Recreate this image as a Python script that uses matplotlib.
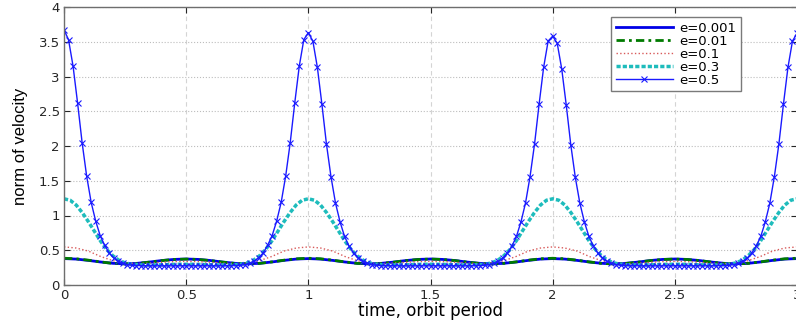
import numpy as np
import matplotlib
matplotlib.use('Agg')
import matplotlib.pyplot as plt
from matplotlib.ticker import FuncFormatter

# ------------------------------------------------------------------------------
# values (time in orbit periods)
t_e05 = np.linspace(0, 3, 163)   # marker spacing ~1/54 period
t_e03 = np.linspace(0, 3, 121)
t_low = np.linspace(0, 3, 61)

e05_p0 = [3.67, 3.53, 3.15, 2.62, 2.05, 1.57, 1.19, 0.92, 0.71, 0.57, 0.46,
          0.39, 0.343, 0.312, 0.294, 0.284, 0.280, 0.278, 0.277, 0.276,
          0.275, 0.275, 0.275, 0.275, 0.275, 0.275, 0.275, 0.275, 0.275,
          0.275, 0.275, 0.275, 0.275, 0.275, 0.275, 0.276, 0.277, 0.278,
          0.280, 0.284, 0.294, 0.312, 0.343, 0.39, 0.46, 0.57, 0.71, 0.92,
          1.19, 1.57, 2.05, 2.62, 3.15, 3.53]
e05_p1 = [3.63, 3.51, 3.13, 2.60, 2.03, 1.56, 1.18, 0.91, 0.70, 0.56, 0.46,
          0.388, 0.341, 0.311, 0.293, 0.284, 0.280, 0.278, 0.277, 0.276,
          0.275, 0.275, 0.275, 0.275, 0.275, 0.275, 0.275, 0.275, 0.275,
          0.275, 0.275, 0.275, 0.275, 0.275, 0.275, 0.276, 0.277, 0.278,
          0.280, 0.284, 0.293, 0.311, 0.341, 0.388, 0.46, 0.56, 0.70, 0.91,
          1.18, 1.56, 2.03, 2.60, 3.13, 3.51]
e05_p2 = [3.58, 3.48, 3.11, 2.59, 2.02, 1.55, 1.18, 0.91, 0.70, 0.56, 0.46,
          0.388, 0.341, 0.311, 0.293, 0.284, 0.280, 0.278, 0.277, 0.276,
          0.275, 0.275, 0.275, 0.275, 0.275, 0.275, 0.275, 0.275, 0.275,
          0.275, 0.275, 0.275, 0.275, 0.275, 0.275, 0.276, 0.277, 0.278,
          0.280, 0.284, 0.293, 0.311, 0.341, 0.388, 0.46, 0.56, 0.70, 0.91,
          1.18, 1.56, 2.03, 2.60, 3.13, 3.51]
e05 = e05_p0 + e05_p1 + e05_p2 + [3.62]

e03_p = [1.24, 1.22, 1.15, 1.04, 0.91, 0.77, 0.63, 0.51, 0.42, 0.355, 0.318,
         0.300, 0.292, 0.289, 0.288, 0.289, 0.291, 0.294, 0.296, 0.298,
         0.298, 0.298, 0.296, 0.294, 0.291, 0.289, 0.288, 0.289, 0.292,
         0.300, 0.318, 0.355, 0.42, 0.51, 0.63, 0.77, 0.91, 1.04, 1.15, 1.22]
e03 = e03_p + e03_p + e03_p + [1.24]

e01_p = [0.548, 0.532, 0.488, 0.41, 0.35, 0.318, 0.308, 0.315, 0.327, 0.336,
         0.339, 0.336, 0.327, 0.315, 0.308, 0.318, 0.35, 0.41, 0.488, 0.532]
e01 = e01_p + e01_p + e01_p + [0.548]

e001_p = [0.385, 0.377, 0.357, 0.332, 0.311, 0.303, 0.310, 0.329, 0.351,
          0.367, 0.373, 0.367, 0.351, 0.329, 0.310, 0.303, 0.311, 0.332,
          0.357, 0.377]
e001 = e001_p + e001_p + e001_p + [0.385]

e0001_p = [0.380, 0.373, 0.354, 0.331, 0.312, 0.305, 0.312, 0.330, 0.352,
           0.368, 0.374, 0.368, 0.352, 0.330, 0.312, 0.305, 0.312, 0.331,
           0.354, 0.373]
e0001 = e0001_p + e0001_p + e0001_p + [0.380]

xticks = [0, 0.5, 1, 1.5, 2, 2.5, 3]
yticks = [0, 0.5, 1, 1.5, 2, 2.5, 3, 3.5, 4]

# ------------------------------------------------------------------------------
fig = plt.figure(figsize=(7.96, 3.23), dpi=100)
ax = fig.add_axes([64/796., 38/323., 733/796., 278/323.])

ax.plot(t_low, e0001, color='#0000e6', lw=2.0, label='e=0.001')
ax.plot(t_low, e001, color='#007a00', lw=2.0, ls=(0, (3, 1.5, 1, 1.5)),
        label='e=0.01')
ax.plot(t_low, e01, color='#d85a5a', lw=1.0, ls=':', label='e=0.1')
ax.plot(t_e03, e03, color='#1ebcbc', lw=2.5, ls=(0, (1.2, 0.6)),
        label='e=0.3')
ax.plot(t_e05, e05, color='#1a1aff', lw=1.0, marker='x', ms=4, mew=0.8,
        label='e=0.5')

ax.set_xlim(0, 3)
ax.set_ylim(0, 4)
ax.set_xticks(xticks)
ax.set_yticks(yticks)
fmt = FuncFormatter(lambda v, pos: '%g' % v)
ax.xaxis.set_major_formatter(fmt)
ax.yaxis.set_major_formatter(fmt)
ax.tick_params(direction='in', top=True, right=True, length=4, width=0.8,
               labelsize=9.5, pad=3, colors='#262626')
ax.xaxis.grid(True, linestyle=(0, (4, 3)), color='#d4d4d4', lw=0.8)
ax.yaxis.grid(True, linestyle=':', color='#bdbdbd', lw=0.8)
for s in ax.spines.values():
    s.set_color('#6e6e6e')
    s.set_linewidth(1.0)

ax.set_xlabel('time, orbit period', fontsize=12, labelpad=0)
ax.set_ylabel('norm of velocity', fontsize=12, labelpad=8,
              family=['Liberation Sans Narrow', 'Liberation Sans',
                      'DejaVu Sans'])

leg = ax.legend(loc='upper right',
                bbox_to_anchor=((741-64)/733., (285-17)/278.),
                borderaxespad=0, fancybox=False, framealpha=1,
                edgecolor='#7a7a7a', fontsize=9.5, handlelength=4.3,
                handletextpad=0.5, labelspacing=0.0, borderpad=0.35)
leg.get_frame().set_linewidth(1.0)

plt.savefig('out.png', dpi=100)
plt.close()
